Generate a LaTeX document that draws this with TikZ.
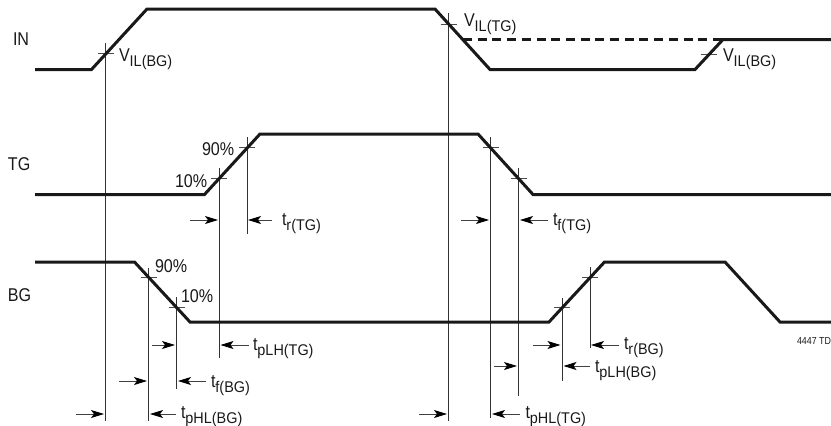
\documentclass[tikz,border=0pt]{standalone}
\usepackage{fontspec}
\setmainfont[FakeStretch=0.87]{Liberation Sans}
\newfontface\subface[FakeStretch=0.93]{Liberation Sans}
\usetikzlibrary{arrows.meta}
\newcommand{\lbl}[2]{#1\raisebox{-5pt}{\subface\fontsize{15.5}{15.5}\selectfont #2}}
\tikzset{
  x=1pt,y=-1pt,
  wave/.style={line width=3pt,black!90,line join=miter,line cap=butt},
  dashwave/.style={wave,dash pattern=on 9pt off 5.7pt},
  guide/.style={line width=0.75pt,black!80},
  tick/.style={line width=0.75pt,black!70},
  dim/.style={line width=0.85pt,black!75,-{Stealth[length=13pt,width=8pt,inset=3pt,color=black]}},
  txt/.style={anchor=base west,inner sep=0pt,outer sep=0pt,text=black!90,font=\fontsize{18.5}{18.5}\selectfont},
  small/.style={anchor=base west,inner sep=0pt,outer sep=0pt,text=black!90,font=\fontsize{10.2}{10.2}\selectfont}
}
\begin{document}
\begin{tikzpicture}
\useasboundingbox (0,0) rectangle (831,426);
% guide lines
\foreach \gx/\ga/\gb in {105.5/43/421, 219/168/358, 247/137/234, 148.5/268/421, 176.5/297/389, 448.5/13/421, 490.5/137/418, 518.5/168/396, 562/298/381, 590/267/348}
  \draw[guide] (\gx,\ga) -- (\gx,\gb);
% ticks
\foreach \tx/\ty in {105.5/53.5, 219/178, 247/147.5, 148.5/277, 176.5/307.5, 448.5/24.5, 490.5/147.5, 518.5/178, 708.5/54, 562/307.5, 590/277}
  \draw[tick] (\tx-8,\ty) -- (\tx+8,\ty);
% waveforms
\draw[wave] (35,69.5) -- (91.5,69.5) -- (147,9) -- (435,9) -- (490,69.5) -- (695,69.5) -- (723,39.5) -- (831,39.5);
\draw[dashwave] (463,39.5) -- (723,39.5);
\draw[wave] (35,194.5) -- (204.5,194.5) -- (260,134) -- (478,134) -- (533,194.5) -- (831,194.5);
\draw[wave] (35,262) -- (134.5,262) -- (190,322) -- (549,322) -- (604.5,262) -- (725,262) -- (780,322) -- (831,322);
% dimension arrows
\foreach \xa/\xb/\yy in {190/218/220, 272/248/220, 461/489/220, 548/520/220,
  152/175/345, 249/220.5/345, 533/560.5/345, 619/591/345,
  494/517/366, 590/563.5/366,
  119/147/381, 205.5/178/381,
  76/104/414, 176/150/414, 419/447/414, 520/492/414}
  \draw[dim] (\xa,\yy) -- (\xb,\yy);
% labels
\node[txt] (in) at (13,45) {IN};
\node[txt] (tg) at (8,170) {TG};
\node[txt] (bg) at (8,301) {BG};
\node[txt] (v1) at (119,61) {\lbl{V}{IL(BG)}};
\node[txt] (v2) at (464,26) {\lbl{V}{IL(TG)}};
\node[txt] (v3) at (723,61) {\lbl{V}{IL(BG)}};
\node[txt] (p1) at (202,155) {90\%};
\node[txt] (p2) at (175,187) {10\%};
\node[txt] (p3) at (155,272.5) {90\%};
\node[txt] (p4) at (181,302.5) {10\%};
\node[txt] (t1) at (282,225) {\lbl{t}{r(TG)}};
\node[txt] (t2) at (553,225) {\lbl{t}{f(TG)}};
\node[txt] (t3) at (253,350) {\lbl{t}{pLH(TG)}};
\node[txt] (t4) at (624,349) {\lbl{t}{r(BG)}};
\node[txt] (t5) at (595,372) {\lbl{t}{pLH(BG)}};
\node[txt] (t6) at (211,387) {\lbl{t}{f(BG)}};
\node[txt] (t7) at (181,418) {\lbl{t}{pHL(BG)}};
\node[txt] (t8) at (525.5,418) {\lbl{t}{pHL(TG)}};
\node[small] (code) at (797,344) {4447 TD};
\end{tikzpicture}
\end{document}
